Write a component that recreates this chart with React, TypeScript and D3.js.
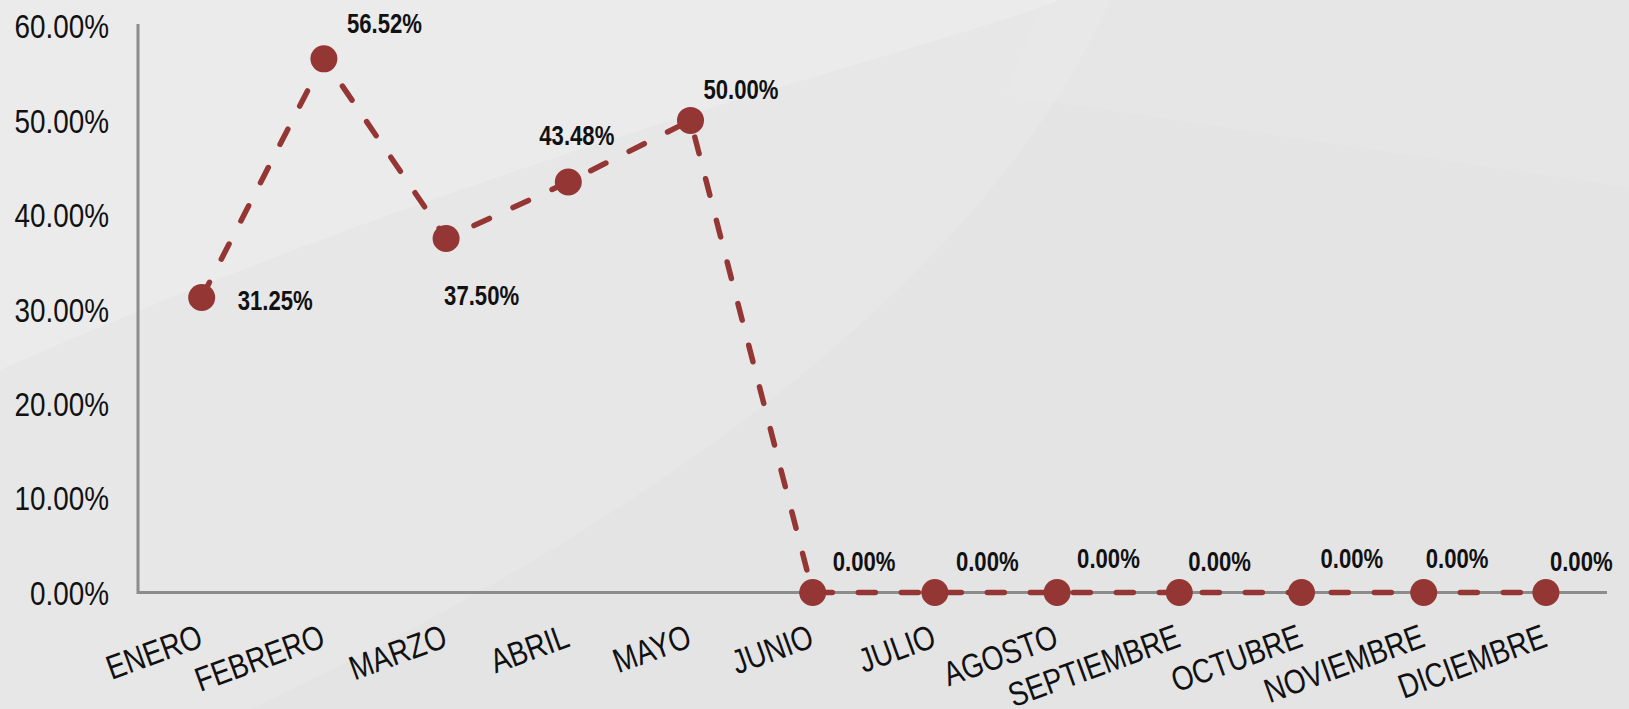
import React, { useEffect, useRef } from 'react';
import * as d3 from 'd3';

const months = ['ENERO', 'FEBRERO', 'MARZO', 'ABRIL', 'MAYO', 'JUNIO', 'JULIO', 'AGOSTO', 'SEPTIEMBRE', 'OCTUBRE', 'NOVIEMBRE', 'DICIEMBRE'];
const values = [31.25, 56.52, 37.5, 43.48, 50.0, 0, 0, 0, 0, 0, 0, 0];
const yTicks = [0, 10, 20, 30, 40, 50, 60];
// where each data label sits relative to its point (left edge, vertical centre)
const labelDx = [36, 23, -2, -29, 13, 20, 21, 20, 9, 19, 2, 4];
const labelDy = [3, -36, 57, -47, -31, -31, -31, -34, -31, -34, -34, -31];

const W = 1629;
const H = 709;
const RED = '#943634';
const FONT = '"Liberation Sans", Arial, sans-serif';
const NARROW = 0.82; // squeeze to look like Arial Narrow

const App: React.FC = () => {
  const svgRef = useRef<SVGSVGElement>(null);

  useEffect(() => {
    if (!svgRef.current) return;
    document.body.style.margin = '0';

    const svg = d3.select(svgRef.current);
    svg.selectAll('*').remove();
    svg.attr('width', W).attr('height', H);

    // background
    svg.append('rect').attr('width', W).attr('height', H).attr('fill', '#e4e4e5');
    svg.append('path')
      .attr('d', 'M0,0 L1060,0 C900,60 500,150 0,370 Z')
      .attr('fill', '#ffffff').attr('opacity', 0.28);
    svg.append('path')
      .attr('d', 'M0,370 C500,150 900,60 1060,0 L1110,0 C1000,250 700,500 250,709 L0,709 Z')
      .attr('fill', '#ffffff').attr('opacity', 0.14);
    svg.append('path')
      .attr('d', 'M1005,95 L1629,188 L1629,0 L1045,0 Z')
      .attr('fill', '#ffffff').attr('opacity', 0.08);

    const x = d3.scaleBand<string>().domain(months).range([140.6, 1607]);
    const y = d3.scaleLinear().domain([0, 60]).range([592.5, 26]);
    const cx = (i: number) => x(months[i])! + x.bandwidth() / 2;

    // axes
    svg.append('line')
      .attr('x1', 138).attr('x2', 138).attr('y1', 24).attr('y2', y(0) + 1.5)
      .attr('stroke', '#8c8c8c').attr('stroke-width', 3);
    svg.append('line')
      .attr('x1', 138).attr('x2', 1607).attr('y1', y(0)).attr('y2', y(0))
      .attr('stroke', '#8c8c8c').attr('stroke-width', 3);

    svg.append('g')
      .selectAll('text')
      .data(yTicks)
      .enter()
      .append('text')
      .attr('transform', d => `translate(109,${y(d)}) scale(${NARROW},1)`)
      .attr('dy', '0.36em')
      .attr('text-anchor', 'end')
      .attr('font-family', FONT)
      .attr('font-size', 34)
      .attr('fill', '#111')
      .text(d => d3.format('.2f')(d) + '%');

    svg.append('g')
      .selectAll('text')
      .data(months)
      .enter()
      .append('text')
      .attr('transform', d => `translate(${x(d)! + x.bandwidth() / 2 + 3},646) rotate(-20) scale(${NARROW},1)`)
      .attr('text-anchor', 'end')
      .attr('font-family', FONT)
      .attr('font-size', 34)
      .attr('fill', '#111')
      .text(d => d);

    // series
    const line = d3.line<number>()
      .x((_, i) => cx(i))
      .y(d => y(d));

    svg.append('path')
      .datum(values)
      .attr('d', line)
      .attr('fill', 'none')
      .attr('stroke', RED)
      .attr('stroke-width', 5.5)
      .attr('stroke-linecap', 'round')
      .attr('stroke-dasharray', '17 26');

    svg.append('g')
      .selectAll('circle')
      .data(values)
      .enter()
      .append('circle')
      .attr('cx', (_, i) => cx(i))
      .attr('cy', d => y(d))
      .attr('r', 13.5)
      .attr('fill', RED);

    svg.append('g')
      .selectAll('text')
      .data(values)
      .enter()
      .append('text')
      .attr('transform', (d, i) => `translate(${cx(i) + labelDx[i]},${y(d) + labelDy[i]}) scale(${NARROW},1)`)
      .attr('dy', '0.36em')
      .attr('font-family', FONT)
      .attr('font-weight', 'bold')
      .attr('font-size', 27)
      .attr('fill', '#111')
      .text(d => d3.format('.2f')(d) + '%');
  }, []);

  return (
    <div style={{ position: 'absolute', left: 0, top: 0 }}>
      <svg ref={svgRef}></svg>
    </div>
  );
};

export default App;
